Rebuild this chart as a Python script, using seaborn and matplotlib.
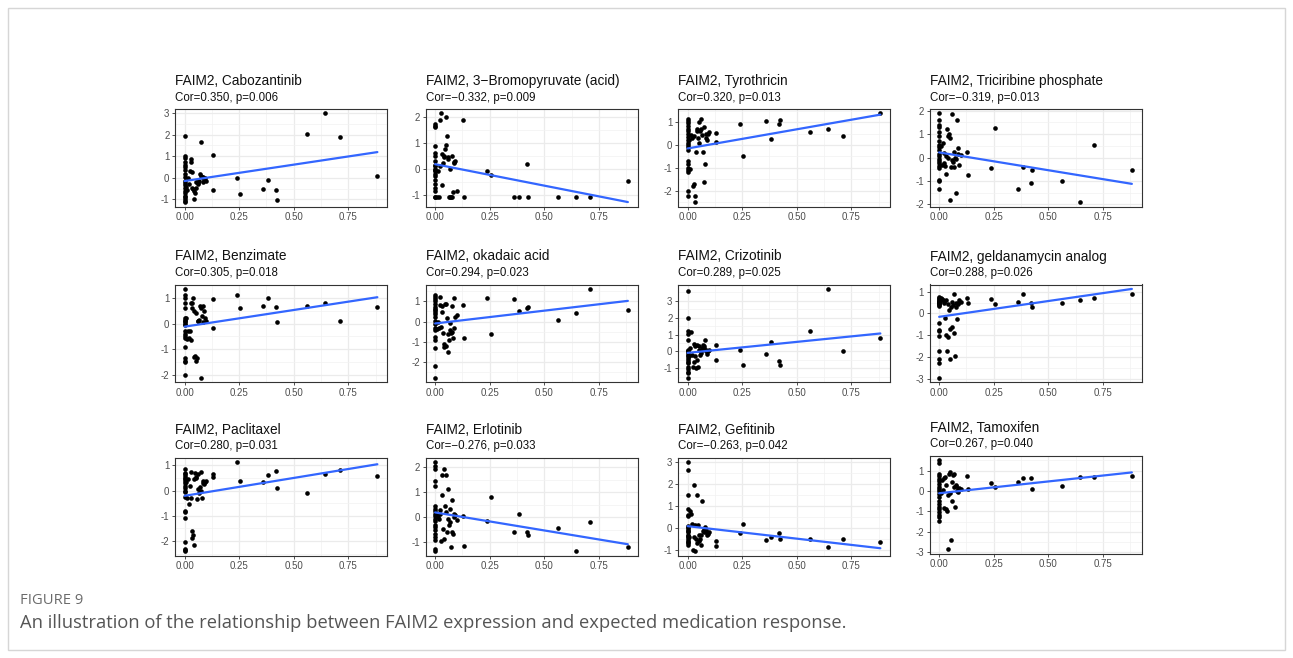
import numpy as np
import pandas as pd
import matplotlib
matplotlib.use("Agg")
import matplotlib.pyplot as plt
from matplotlib.ticker import FixedLocator, MultipleLocator
from matplotlib.patches import Rectangle
import seaborn as sns

# FAIM2 expression (shared by every drug panel)
expr_zero = [0.0] * 20
expr_low = [0.008, 0.012, 0.016, 0.020, 0.024, 0.028, 0.030, 0.033, 0.036, 0.039,
            0.042, 0.045, 0.048, 0.051, 0.054, 0.057, 0.060, 0.063, 0.066, 0.070,
            0.073, 0.076, 0.079, 0.082, 0.085, 0.088, 0.092, 0.100]
expr_high = [0.128, 0.130, 0.238, 0.254, 0.360, 0.382, 0.420, 0.425, 0.562, 0.645, 0.711, 0.883]
faim2 = expr_zero + expr_low + expr_high

drugs = ["Cabozantinib", "3\u2212Bromopyruvate (acid)", "Tyrothricin", "Triciribine phosphate",
         "Benzimate", "okadaic acid", "Crizotinib", "geldanamycin analog",
         "Paclitaxel", "Erlotinib", "Gefitinib", "Tamoxifen"]
cor_values = ["0.350", "\u22120.332", "0.320", "\u22120.319",
              "0.305", "0.294", "0.289", "0.288",
              "0.280", "\u22120.276", "\u22120.263", "0.267"]
p_values = ["0.006", "0.009", "0.013", "0.013",
            "0.018", "0.023", "0.025", "0.026",
            "0.031", "0.033", "0.042", "0.040"]

# Estimated drug response (IC50 z-scores); order follows faim2
cabozantinib = [1.93, 1.03, 0.9, 0.72, 0.6, 0.5, 0.38, 0.2, 0.05, -0.15, -0.25, -0.35, -0.45, -0.6, -0.7, -0.82, -0.9, -1.0, -1.05, -1.12,
                -0.4, -0.55, 0.0, -0.3, 0.3, 0.85, 0.75, 0.25, -0.45, -0.5, -1.0, -0.6, -0.7, -0.45, -0.2, -0.2, -0.3, -0.25, -0.15, 0.2,
                1.65, 0.1, 0.05, 0.05, -0.2, -0.1, 0.0, -0.15,
                1.05, -0.58, 0.0, -0.75, -0.5, -0.1, -0.55, -1.03, 2.05, 2.98, 1.9, 0.1]
bromopyruvate = [1.7, 1.65, 1.6, 0.88, 0.6, 0.5, 0.1, 0.3, -0.1, 0.15, -0.05, 0.0, -0.2, -0.45, -0.6, -0.75, -0.85, -1.1, -1.1, -0.3,
                 -1.1, -0.1, -1.1, 0.1, 1.85, 2.12, -0.65, 0.55, 0.2, 0.45, 0.5, 0.75, 1.98, 0.9, 1.25, 0.45, 0.35, -1.1, -1.1, 0.0,
                 -1.1, 0.5, -1.1, -0.9, 0.25, 0.2, 0.3, -0.85,
                 1.88, -1.1, -0.08, -0.25, -1.1, -1.1, 0.18, -1.1, -1.1, -1.1, -1.1, -0.48]
tyrothricin = [1.15, 1.05, 0.95, 0.85, 0.7, 0.6, 0.5, 0.35, 0.2, 0.1, 0.0, -0.1, -0.2, -0.7, -0.85, -1.0, -1.1, -1.2, -2.0, -2.25,
               0.2, -1.05, 0.45, 0.3, -1.8, 0.4, -1.7, -2.25, -2.5, -0.3, 0.6, 0.7, 0.3, 1.0, 0.1, 0.6, 1.15, 0.7, 0.45, -0.3,
               -1.6, 0.8, -0.85, 0.5, 0.3, 0.2, 0.5, 0.55,
               0.52, 0.15, 0.9, -0.48, 1.03, 0.25, 0.9, 1.08, 0.58, 0.7, 0.4, 1.38]
triciribine = [1.88, 1.6, 1.4, 1.3, 1.1, 0.9, 0.7, 0.55, 0.45, 0.3, 0.15, 0.05, -0.05, -0.15, -0.25, -0.35, -0.45, -0.95, -1.0, -1.35,
               0.5, -0.3, 0.6, -0.25, 0.2, -0.35, 0.05, -0.7, 1.2, 0.9, 0.0, 1.0, 0.85, -1.8, -0.4, 1.85, -0.1, -0.2, 0.25, -0.4,
               0.0, -0.05, -1.5, 1.58, 0.4, 0.15, -0.3, 0.1,
               0.25, -0.75, -0.45, 1.25, -1.35, -0.4, -1.1, -0.55, -1.02, -1.9, 0.52, -0.55]
benzimate = [1.35, 1.1, 1.0, 0.8, 0.6, 0.1, 0.0, 0.15, 0.05, -0.05, -0.3, -0.4, -0.5, -0.55, -0.9, -1.35, -1.45, -1.5, -2.0, 0.2,
             0.2, -0.6, -0.3, -0.55, -0.3, -0.65, 0.8, 0.6, 0.8, 1.0, -1.3, 0.5, -1.25, -1.45, 0.4, -1.35, 0.1, 0.1, 0.15, 0.7,
             -2.1, 0.6, 0.3, 0.7, 0.05, 0.5, 0.2, 0.1,
             0.95, -0.18, 1.12, 0.6, 0.68, 1.0, 0.65, 0.07, 0.7, 0.82, 0.1, 0.65]
okadaic = [1.3, 1.2, 1.1, 1.0, 0.85, 0.7, 0.55, 0.45, 0.35, 0.2, 0.05, -0.1, -0.3, -0.4, -0.75, -0.9, -1.3, -2.2, -2.75, 0.6,
           -0.35, 0.0, -0.3, 1.2, 0.8, -0.25, 0.75, 0.45, -0.55, -1.1, -1.25, 0.85, -1.2, 0.85, 0.15, -0.6, -1.5, -0.9, -0.05, -0.4,
           -0.55, 0.75, -0.5, -0.8, 1.15, -0.3, 0.2, 0.3,
           0.8, -0.82, 1.15, -0.6, 1.1, 0.5, 0.65, 0.7, 0.08, 0.42, 1.6, 0.55]
crizotinib = [3.55, 2.0, 1.2, 1.05, 0.7, 0.1, 0.0, -0.1, -0.2, -0.3, -0.4, -0.5, -0.6, -0.7, -0.9, -1.05, -1.2, -1.3, -1.55, 0.05,
              -0.3, 0.2, 1.15, -0.2, -0.95, 0.45, -0.6, 0.3, -0.3, -1.0, 0.35, -0.5, -0.95, 0.3, 0.1, -0.2, 0.0, -0.1, 0.2, 0.35,
              0.3, 0.2, 0.7, 0.1, 0.0, -0.15, 0.05, 0.1,
              0.38, -0.5, 0.1, -0.8, -0.15, 0.55, -0.55, -0.8, 1.18, 3.7, 0.05, 0.78]
geldanamycin = [0.75, 0.7, 0.65, 0.6, 0.55, 0.5, 0.45, 0.4, 0.35, -0.45, -0.75, -1.05, -1.75, -2.1, -2.3, -2.95, 0.58, 0.52, 0.48, -0.8,
                0.7, 0.65, 0.6, 0.5, 0.55, -0.2, -1.0, 0.6, -1.75, 0.45, -1.1, 0.15, -0.7, -2.1, 0.3, -0.6, 0.55, 0.4, -0.9, 0.9,
                -1.95, 0.3, 0.5, -0.25, 0.45, 0.5, 0.6, 0.55,
                0.72, 0.5, 0.68, 0.45, 0.52, 0.9, 0.5, 0.28, 0.5, 0.6, 0.7, 0.9]
paclitaxel = [0.85, 0.65, 0.6, 0.5, 0.4, 0.3, 0.2, 0.1, 0.0, -0.05, -0.25, -0.8, -0.85, -1.1, -2.05, -2.3, -2.35, -2.4, 0.7, 0.45,
              0.35, -0.3, 0.45, -0.55, 0.2, 0.75, -0.3, -1.9, -1.6, -1.75, 0.45, -2.15, 0.7, 0.5, 0.55, -0.35, 0.65, 0.05, -0.1, 0.15,
              0.0, 0.75, -0.28, 0.4, 0.3, 0.25, 0.35, 0.4,
              0.65, 0.55, 1.12, 0.4, 0.33, 0.62, 0.78, 0.1, -0.1, 0.65, 0.8, 0.6]
erlotinib = [2.2, 2.05, 1.95, 1.45, 1.25, 0.45, 0.35, 0.25, 0.15, 0.05, -0.05, -0.15, -0.3, -0.5, -0.65, -0.8, -0.9, -1.25, -1.35, -0.4,
             0.1, 0.0, -0.05, 0.15, 0.3, -0.95, 1.7, 0.9, -0.45, -0.85, 1.95, 0.45, 1.68, 0.2, -0.6, -0.05, 1.15, -0.3, -0.2, 0.35,
             -1.2, 0.7, -0.6, -0.65, 0.15, 0.0, 0.1, -0.1,
             0.05, -1.15, -0.15, 0.8, -0.57, 0.12, -0.57, -0.72, -0.42, -1.35, -0.2, -1.2]
gefitinib = [3.0, 2.65, 1.5, 0.88, 0.6, 0.55, 0.1, 0.0, -0.1, -0.2, -0.3, -0.4, -0.5, -0.6, -0.7, -0.75, 0.05, -0.15, -0.35, -0.65,
             -0.4, 0.8, 0.65, 0.2, -1.0, 1.95, -0.4, -1.05, 0.15, -0.5, 1.5, -0.7, 0.15, -0.6, -0.3, -0.5, -0.75, -0.3, 1.22, -0.15,
             -0.2, -0.1, 0.05, -0.2, -0.1, -0.3, -0.25, -0.2,
             -0.58, -0.8, -0.22, 0.2, -0.55, -0.4, -0.22, -0.5, -0.5, -0.87, -0.48, -0.63]
tamoxifen = [1.5, 1.35, 0.85, 0.75, 0.6, 0.5, 0.35, 0.2, 0.0, -0.15, -0.3, -0.5, -0.65, -0.9, -1.05, -1.2, -1.3, -1.45, 0.1, -0.8,
             -0.1, 0.55, 0.05, 0.65, -0.85, 0.7, -0.9, 0.3, -1.0, -2.85, -0.2, 0.85, -0.1, 0.95, -2.4, 0.45, -0.5, 0.8, 0.85, 0.2,
             -0.8, 0.25, 0.3, 0.0, 0.1, -0.05, 0.15, 0.1,
             0.75, 0.1, 0.4, 0.2, 0.42, 0.65, 0.65, 0.08, 0.25, 0.68, 0.7, 0.75]

responses = [cabozantinib, bromopyruvate, tyrothricin, triciribine,
             benzimate, okadaic, crizotinib, geldanamycin,
             paclitaxel, erlotinib, gefitinib, tamoxifen]

sns.set_theme(style="white")
plt.rcParams["font.family"] = ["Liberation Sans", "DejaVu Sans"]
plt.rcParams["axes.unicode_minus"] = False

W, H = 1293, 658
fig = plt.figure(figsize=(W / 100, H / 100), dpi=100)
fig.patch.set_facecolor("white")

# outer frame
fig.patches.append(Rectangle((8 / W, 1 - 650 / H), (1285 - 8) / W, (650 - 8) / H,
                             transform=fig.transFigure, fill=False,
                             edgecolor="#d6d6d6", linewidth=1.0))

col_left = [175, 425.5, 678, 929.5]
row_top = [109, 284.5, 458]
ax_w, ax_h = 212, 97.5

for i, (name, resp) in enumerate(zip(drugs, responses)):
    r, c = divmod(i, 4)
    left, top = col_left[c], row_top[r]
    if i == 11:
        top -= 2
    ax = fig.add_axes([left / W, 1 - (top + ax_h) / H, ax_w / W, ax_h / H])
    df = pd.DataFrame({"expr": faim2, "resp": resp})
    sns.regplot(data=df, x="expr", y="resp", ax=ax, ci=None,
                scatter_kws=dict(s=11, color="black", linewidths=0, alpha=1),
                line_kws=dict(color="#3366FF", linewidth=1.6))

    # limits cover both the points and the fitted line, with 5% padding
    fit_line = ax.lines[-1]
    line_y = np.asarray(fit_line.get_ydata())
    xmin, xmax = df["expr"].min(), df["expr"].max()
    ymin = min(df["resp"].min(), line_y.min())
    ymax = max(df["resp"].max(), line_y.max())
    xpad, ypad = 0.05 * (xmax - xmin), 0.05 * (ymax - ymin)
    ax.set_xlim(xmin - xpad, xmax + xpad)
    ax.set_ylim(ymin - ypad, ymax + ypad)

    ax.xaxis.set_major_locator(FixedLocator([0, 0.25, 0.5, 0.75]))
    ax.xaxis.set_minor_locator(FixedLocator([0.125, 0.375, 0.625, 0.875]))
    ax.set_xticklabels(["0.00", "0.25", "0.50", "0.75"])
    ax.yaxis.set_major_locator(MultipleLocator(1))
    ax.yaxis.set_minor_locator(MultipleLocator(0.5))

    ax.grid(which="major", color="#EBEBEB", linewidth=0.9)
    ax.grid(which="minor", color="#F2F2F2", linewidth=0.5)
    ax.set_axisbelow(True)
    for s in ax.spines.values():
        s.set_color("#333333")
        s.set_linewidth(0.8)
    ax.tick_params(which="major", length=2.5, width=0.6, color="#333333",
                   labelsize=7, labelcolor="#4D4D4D", pad=1.5,
                   bottom=True, left=True)
    ax.tick_params(which="minor", length=0)
    ax.set_xlabel("")
    ax.set_ylabel("")

    fig.text(left / W, 1 - (top - 24) / H, f"FAIM2, {name}", fontsize=9.8,
             ha="left", va="baseline", color="#111111")
    fig.text(left / W, 1 - (top - 8.5) / H, f"Cor={cor_values[i]}, p={p_values[i]}",
             fontsize=8.3, ha="left", va="baseline", color="#111111")

fig.text(20 / W, 1 - 603.5 / H, "FIGURE 9", fontsize=10.6, color="#6b6b6b",
         family=["Open Sans", "DejaVu Sans"], ha="left", va="baseline")
fig.text(20 / W, 1 - 628 / H,
         "An illustration of the relationship between FAIM2 expression and expected medication response.",
         fontsize=13.2, color="#555555", family=["Open Sans", "DejaVu Sans"],
         ha="left", va="baseline")

fig.savefig("out.png", dpi=100, facecolor="white")
